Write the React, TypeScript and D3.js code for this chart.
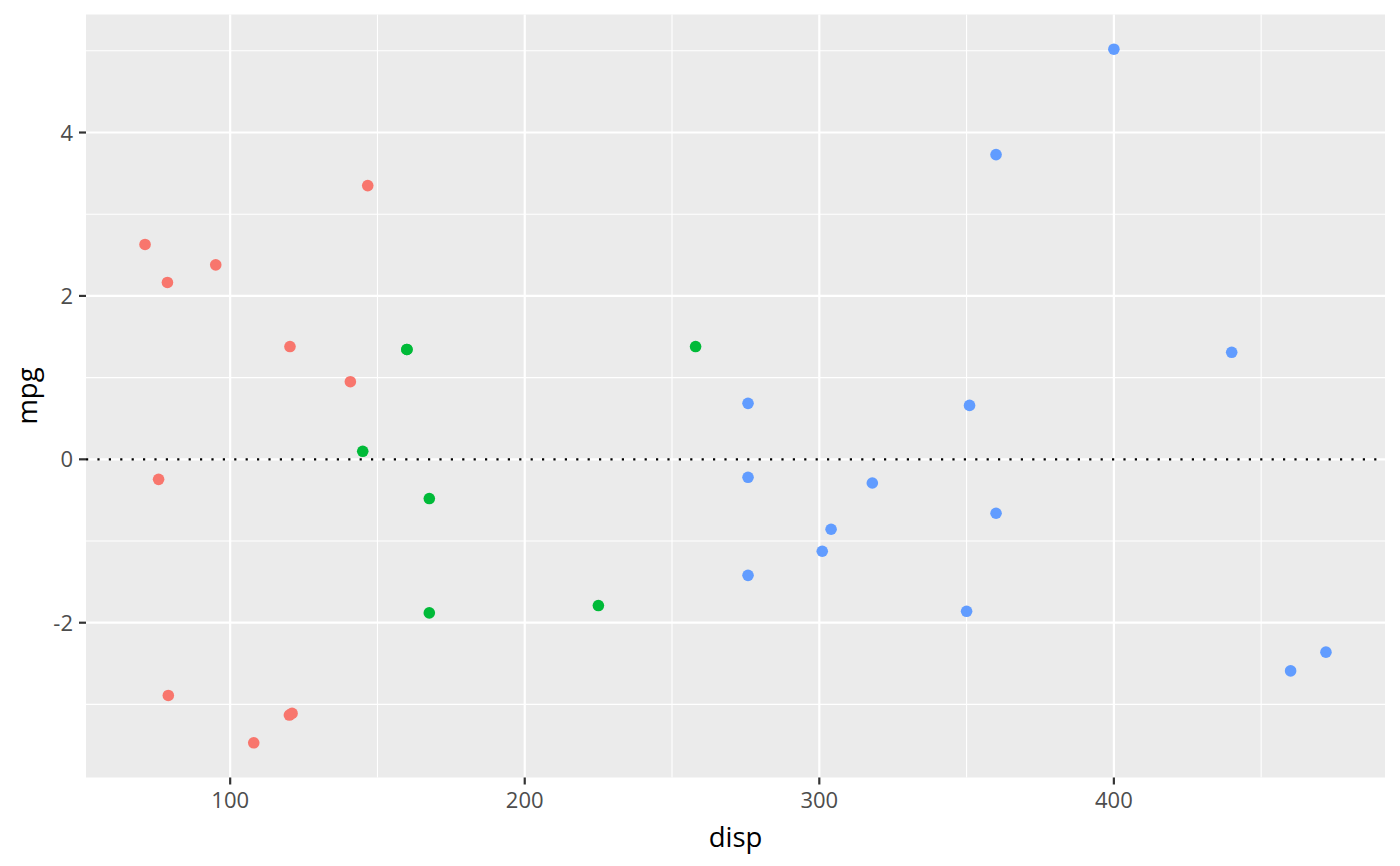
import React from "react";
import * as d3 from "d3";

const dispRed = [71.1, 78.7, 95.1, 146.7, 120.3, 140.8, 75.7, 79.0, 108.0, 120.1, 121.0];
const resRed = [2.63, 2.165, 2.38, 3.35, 1.38, 0.95, -0.245, -2.89, -3.47, -3.13, -3.11];
const dispGreen = [160, 160, 258, 225, 167.6, 167.6, 145];
const resGreen = [1.345, 1.345, 1.38, -1.79, -0.48, -1.88, 0.098];
const dispBlue = [360, 360, 275.8, 275.8, 275.8, 472, 460, 440, 318, 304, 350, 400, 351, 301];
const resBlue = [3.73, -0.66, 0.685, -0.22, -1.42, -2.36, -2.59, 1.31, -0.29, -0.856, -1.86, 5.02, 0.66, -1.125];

const groups = [
  { disp: dispRed, res: resRed, color: "#F8766D" },
  { disp: dispGreen, res: resGreen, color: "#00BA38" },
  { disp: dispBlue, res: resBlue, color: "#619CFF" },
];

const xMajor = [100, 200, 300, 400];
const xMinor = [150, 250, 350, 450];
const yMajor = [-2, 0, 2, 4];
const yMinor = [-3, -1, 1, 3, 5];

const W = 1400, H = 866;
const L = 86, R = 1385, T = 14.5, B = 777.5;
const FONT = "'Open Sans', 'Noto Sans', sans-serif";

export default function App() {
  const allX = groups.flatMap(g => g.disp);
  const allY = groups.flatMap(g => g.res);
  const [x0, x1] = d3.extent(allX) as [number, number];
  const [y0, y1] = d3.extent(allY) as [number, number];
  const ex = (x1 - x0) * 0.05, ey = (y1 - y0) * 0.05;
  const x = d3.scaleLinear().domain([x0 - ex, x1 + ex]).range([L, R]);
  const y = d3.scaleLinear().domain([y0 - ey, y1 + ey]).range([B, T]);

  return (
    <svg width={W} height={H} style={{ position: "absolute", left: 0, top: 0, background: "#fff" }}>
      <rect x={L} y={T} width={R - L} height={B - T} fill="#EBEBEB" />
      {xMinor.map(v => (
        <line key={"xm" + v} x1={x(v)} x2={x(v)} y1={T} y2={B} stroke="#fff" strokeWidth={1.1} />
      ))}
      {yMinor.map(v => (
        <line key={"ym" + v} x1={L} x2={R} y1={y(v)} y2={y(v)} stroke="#fff" strokeWidth={1.1} />
      ))}
      {xMajor.map(v => (
        <line key={"xM" + v} x1={x(v)} x2={x(v)} y1={T} y2={B} stroke="#fff" strokeWidth={2.2} />
      ))}
      {yMajor.map(v => (
        <line key={"yM" + v} x1={L} x2={R} y1={y(v)} y2={y(v)} stroke="#fff" strokeWidth={2.2} />
      ))}
      <line x1={L} x2={R} y1={y(0)} y2={y(0)} stroke="#000" strokeWidth={2.2} strokeDasharray="2.2 9.2" />
      {groups.map((g, gi) =>
        g.disp.map((d, i) => (
          <circle key={gi + "-" + i} cx={x(d)} cy={y(g.res[i])} r={5.8} fill={g.color} />
        ))
      )}
      {xMajor.map(v => (
        <g key={"xt" + v}>
          <line x1={x(v)} x2={x(v)} y1={B} y2={B + 7} stroke="#333" strokeWidth={2.2} />
          <text x={x(v)} y={B + 30.5} textAnchor="middle" fontFamily={FONT} fontSize={22} fill="#4D4D4D">{v}</text>
        </g>
      ))}
      {yMajor.map(v => (
        <g key={"yt" + v}>
          <line x1={L - 7} x2={L} y1={y(v)} y2={y(v)} stroke="#333" strokeWidth={2.2} />
          <text x={L - 13} y={y(v) + 8} textAnchor="end" fontFamily={FONT} fontSize={22} fill="#4D4D4D">{v}</text>
        </g>
      ))}
      <text x={(L + R) / 2} y={847} textAnchor="middle" fontFamily={FONT} fontSize={27.5} fill="#000">disp</text>
      <text transform={`translate(37,${(T + B) / 2}) rotate(-90)`} textAnchor="middle" fontFamily={FONT} fontSize={27.5} fill="#000">mpg</text>
    </svg>
  );
}
